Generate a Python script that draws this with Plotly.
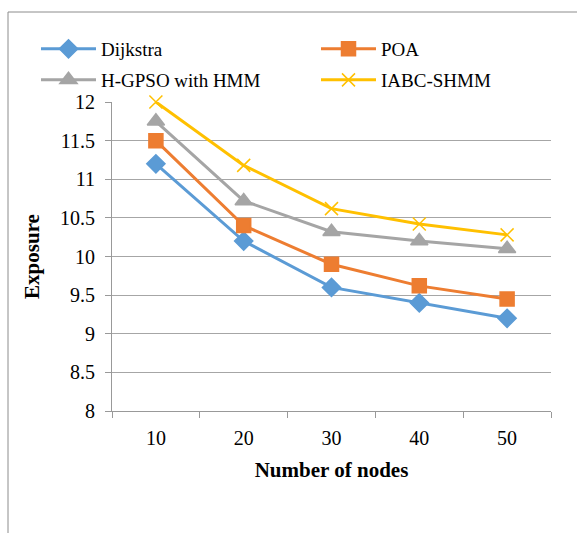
import plotly.graph_objects as go

# Network size (x categories) and exposure per routing method
nodes = ["10", "20", "30", "40", "50"]
dijkstra = [11.2, 10.2, 9.6, 9.4, 9.2]
poa = [11.5, 10.4, 9.9, 9.62, 9.45]
hgpso_hmm = [11.75, 10.72, 10.32, 10.2, 10.1]
iabc_shmm = [12.0, 11.18, 10.62, 10.42, 10.28]

FONT = "'Liberation Serif', 'Times New Roman', serif"

W, H = 577, 533
L, R, T, B = 112, 26, 102, 122
pw, ph = W - L - R, H - T - B


def px_x(p):
    return (p - L) / pw


def px_y(p):
    return (H - B - p) / ph


# name, values, colour, marker, marker size, legend id, legend position (px)
series = [
    ("Dijkstra", dijkstra, "#5B9BD5", "diamond", 14, "legend", (36, 49)),
    ("POA", poa, "#ED7D31", "square", 14, "legend2", (316, 49)),
    ("H-GPSO with HMM", hgpso_hmm, "#A5A5A5", "triangle-up", 15, "legend3", (36, 80)),
    ("IABC-SHMM", iabc_shmm, "#FFC000", "x-thin-open", 13, "legend4", (316, 80)),
]

fig = go.Figure()
legends = {}
for name, vals, color, sym, size, leg, (lx, ly) in series:
    fig.add_trace(go.Scatter(
        x=nodes, y=vals, name=name, mode="lines+markers",
        line=dict(color=color, width=3),
        marker=dict(symbol=sym, size=size, color=color,
                    line=dict(color=color, width=1.5)),
        cliponaxis=False,
        legend=leg,
    ))
    legends[leg] = dict(
        x=px_x(lx), y=px_y(ly), xanchor="left", yanchor="middle",
        itemwidth=55, font=dict(family=FONT, size=19, color="black"),
        bgcolor="rgba(0,0,0,0)",
    )

fig.update_layout(
    width=W, height=H,
    margin=dict(l=L, r=R, t=T, b=B),
    paper_bgcolor="white", plot_bgcolor="white",
    font=dict(family=FONT, size=20, color="black"),
    showlegend=True,
    **legends,
    xaxis=dict(
        type="category", range=[-0.5, 4.5],
        showline=True, linecolor="#999999", linewidth=1,
        ticks="outside", tickson="boundaries", ticklen=6, tickcolor="#999999",
        ticklabelstandoff=9,
        showgrid=False,
        tickfont=dict(family=FONT, size=20),
        title=dict(text="<b>Number of nodes</b>", font=dict(family=FONT, size=21), standoff=14),
    ),
    yaxis=dict(
        range=[8, 12], dtick=0.5, tick0=8,
        showline=True, linecolor="#999999", linewidth=1,
        ticks="outside", ticklen=6, tickcolor="#999999",
        ticklabelstandoff=6,
        showgrid=True, gridcolor="#A6A6A6", gridwidth=1,
        zeroline=False,
        tickfont=dict(family=FONT, size=20),
        title=dict(text="<b>Exposure</b>", font=dict(family=FONT, size=21), standoff=14),
    ),
    shapes=[dict(
        type="rect", xref="paper", yref="paper",
        x0=px_x(8), x1=px_x(600), y0=px_y(560), y1=px_y(12),
        line=dict(color="#8C8C8C", width=1), fillcolor="rgba(0,0,0,0)", layer="below",
    )],
)

fig.write_html("out.html")
